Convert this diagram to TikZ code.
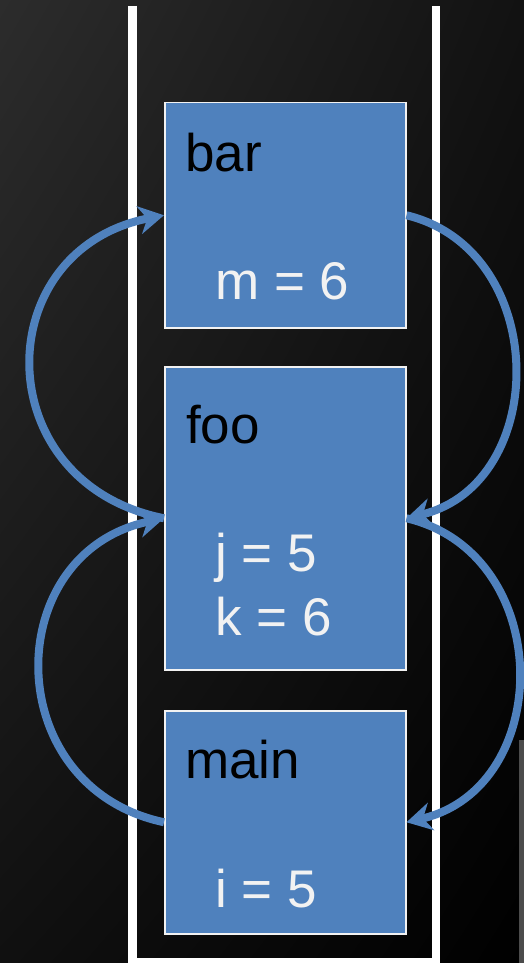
\documentclass[tikz,border=0pt]{standalone}
\usepackage{fontspec}
\setmainfont{Liberation Sans}
\usepackage{tikz}
\usetikzlibrary{positioning}
\usetikzlibrary{calc,arrows.meta,shadings}
\definecolor{frameblue}{RGB}{79,129,189}
\definecolor{offwhite}{RGB}{242,242,242}
\definecolor{bgtl}{RGB}{44,44,44}
\definecolor{bgtr}{RGB}{18,18,18}
\definecolor{bgbl}{RGB}{16,16,16}
\tikzset{
  x=1pt, y=-1pt,
  frame/.style = {rectangle, draw=offwhite, line width=1.5pt, fill=frameblue,
   anchor=north west, minimum width=241pt, inner sep=0pt},
  fname/.style = {anchor=base west, inner sep=0pt, text=black,
   font=\fontsize{53}{64}\selectfont},
  fvalue/.style = {fname, text=offwhite},
  call/.style = {draw=frameblue, line width=8pt,
   -{Stealth[length=25pt, width=28pt, inset=8pt]}},
  stackwall/.style = {draw=white, line width=8.5pt, line join=miter},
}

\begin{document}
\begin{tikzpicture}
  % background
  \useasboundingbox (0,0) rectangle (524,963);
  \shade[upper left=bgtl, upper right=bgtr, lower left=bgbl,
         lower right=black] (0,0) rectangle (524,963);
  \fill[black!70] (519,740) rectangle (524,963);

  % the stack
  \draw[stackwall] (132.5,6) -- (132.5,962) -- (436,962) -- (436,6);

  % frames
  \node (bar) [frame, minimum height=225pt] at (164,102) {};
  \node (foo) [frame, minimum height=303pt] at (164,366) {};
  \node (main) [frame, minimum height=223pt] at (164,710) {};

  \node (barname) [fname] at (185,171) {bar};
  \node (mval) [fvalue] at (215,299) {m = 6};
  \node (fooname) [fname] at (186,443) {foo};
  \node (jval) [fvalue] at (215,571) {j = 5};
  \node (kval) [fvalue] at (215,635) {k = 6};
  \node (mainname) [fname] at (185,778) {main};
  \node (ival) [fvalue] at (215,907) {i = 5};

  % calls
  \draw[call] (foo.west) .. controls +(-177,-35) and +(-177,35) .. (bar.west);
  \draw[call] (main.west) .. controls +(-165,-35) and +(-165,35) .. (foo.west);
  % returns
  \draw[call] (bar.east) .. controls +(144,35) and +(144,-35) .. (foo.east);
  \draw[call] (foo.east) .. controls +(149,35) and +(149,-35) .. (main.east);
\end{tikzpicture}
\end{document}
